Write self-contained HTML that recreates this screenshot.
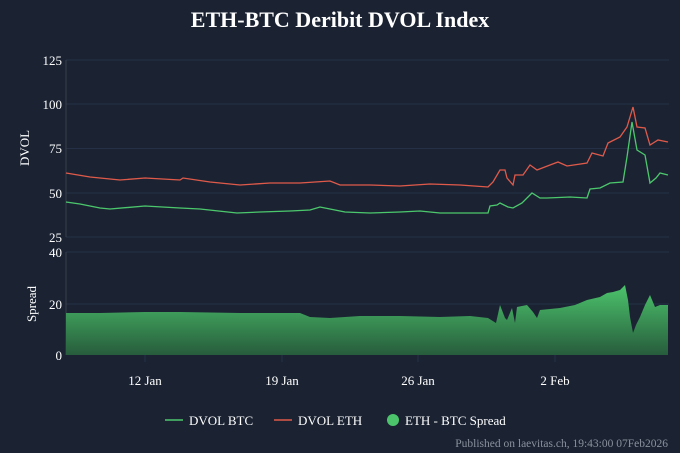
<!DOCTYPE html>
<html><head><meta charset="utf-8"><style>
body{margin:0;background:#1b2333;}
svg{display:block;font-family:"Liberation Serif",serif;}
</style></head><body>
<svg width="680" height="453" viewBox="0 0 680 453">
<defs><linearGradient id="g" x1="0" y1="0" x2="0" y2="1"><stop offset="0" stop-color="#4cc46c"/><stop offset="1" stop-color="#275c3c"/></linearGradient></defs>
<rect width="680" height="453" fill="#1b2333"/>
<text x="340" y="27" fill="#fff" font-size="22" font-weight="bold" text-anchor="middle">ETH-BTC Deribit DVOL Index</text>
<g stroke="#253047" stroke-width="1">
<line x1="66" x2="669" y1="60" y2="60"/><line x1="66" x2="669" y1="104" y2="104"/><line x1="66" x2="669" y1="148.5" y2="148.5"/><line x1="66" x2="669" y1="193" y2="193"/><line x1="66" x2="669" y1="237" y2="237"/>
<line x1="66" x2="669" y1="252" y2="252"/><line x1="66" x2="669" y1="304" y2="304"/>
<line x1="145" x2="145" y1="355" y2="362"/><line x1="282" x2="282" y1="355" y2="362"/><line x1="418" x2="418" y1="355" y2="362"/><line x1="555" x2="555" y1="355" y2="362"/>
</g>
<line x1="66" x2="66" y1="60" y2="237" stroke="#3a3f4a"/><line x1="66" x2="66" y1="252" y2="355" stroke="#3a3f4a"/>
<g fill="#fff" font-size="13" text-anchor="end">
<text x="62" y="65">125</text><text x="62" y="109">100</text><text x="62" y="153">75</text><text x="62" y="198">50</text><text x="62" y="242">25</text>
<text x="62" y="257">40</text><text x="62" y="309">20</text><text x="62" y="360">0</text>
</g>
<g fill="#fff" font-size="13" text-anchor="middle">
<text x="145" y="385">12 Jan</text><text x="282" y="385">19 Jan</text><text x="418" y="385">26 Jan</text><text x="555" y="385">2 Feb</text>
</g>
<text transform="translate(29,148) rotate(-90)" fill="#fff" font-size="13" text-anchor="middle">DVOL</text>
<text transform="translate(36,304) rotate(-90)" fill="#fff" font-size="13" text-anchor="middle">Spread</text>
<path d="M66,313 L100,313 145,312 180,312 240,313 300,313 310,317 330,318 360,316 400,316 440,317 470,316 488,318 496,323 500,305 505,318 507,320 512,308 515,323 517,307 527,305 533,312 537,318 540,310 560,308 575,305 587,300 600,297 607,293 613,292 620,290 625,285 628,300 630,317 633,333 636,325 640,317 645,305 650,295 655,307 660,305 668,305 L668,355 L66,355Z" fill="url(#g)"/>
<polyline fill="none" stroke="#4cc86c" stroke-width="1.3" points="66,202 80,204 100,208 110,209 145,206 180,208 200,209 237,213 260,212 290,211 310,210 320,207 330,209 345,212 370,213 400,212 420,211 440,213 465,213 488,213 490,206 497,205 500,203 508,207 513,208 522,203 532,193 540,198 547,198 570,197 587,198 590,189 600,188 610,183 623,182 627,157 632,122 637,150 645,155 650,183 656,178 660,173 664,174 668,175"/>
<polyline fill="none" stroke="#e05a4a" stroke-width="1.3" points="66,173 90,177 120,180 145,178 180,180 183,178 210,182 240,185 270,183 300,183 330,181 340,185 370,185 400,186 430,184 460,185 488,187 493,182 500,170 505,170 507,178 513,185 515,175 523,175 530,165 537,170 550,165 558,162 567,166 587,163 592,153 603,156 608,143 620,137 627,127 633,107 637,127 645,128 650,145 658,140 663,141 668,142"/>
<g font-size="13" fill="#fff">
<line x1="165" x2="183" y1="420" y2="420" stroke="#4cc86c" stroke-width="1.5"/><text x="189" y="425">DVOL BTC</text>
<line x1="274" x2="292" y1="420" y2="420" stroke="#e05a4a" stroke-width="1.5"/><text x="298" y="425">DVOL ETH</text>
<circle cx="393" cy="420" r="6" fill="#4cc46c"/><text x="405" y="425">ETH - BTC Spread</text>
</g>
<text x="668" y="447" fill="#8a909c" font-size="11.5" text-anchor="end">Published on laevitas.ch, 19:43:00 07Feb2026</text>
</svg>
</body></html>
